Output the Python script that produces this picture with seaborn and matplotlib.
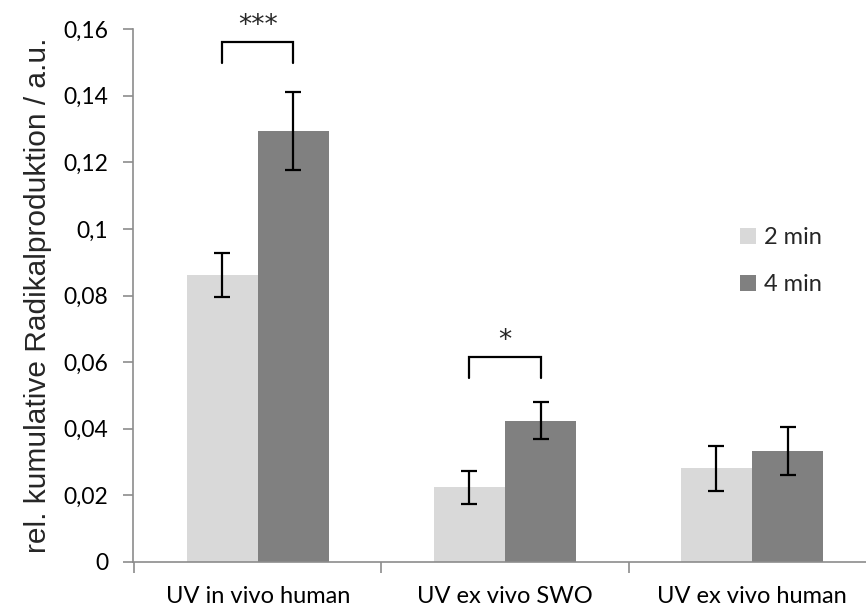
import matplotlib
matplotlib.use("Agg")
import matplotlib.pyplot as plt
import seaborn as sns
import pandas as pd
import numpy as np
from matplotlib.ticker import FuncFormatter, FixedLocator

categories = ["UV in vivo human", "UV ex vivo SWO", "UV ex vivo human"]
series = ["2 min", "4 min"]
values_2min = [0.0862, 0.0224, 0.0281]
values_4min = [0.1294, 0.0424, 0.0333]
err_2min = [0.0066, 0.0050, 0.0067]
err_4min = [0.0116, 0.0055, 0.0072]
sig_labels = ["***", "*", ""]
sig_heights = [0.1561, 0.0615, None]

sns.set_style("white")
plt.rcParams['font.family'] = ['Lato', 'DejaVu Sans']

df = pd.DataFrame({
    "cat": categories * 2,
    "series": [series[0]] * 3 + [series[1]] * 3,
    "value": values_2min + values_4min,
    "err": err_2min + err_4min,
})

fig = plt.figure(figsize=(8.66, 6.07), dpi=100)
ax = fig.add_axes([133 / 866, 1 - 562 / 607, 1 - 133 / 866, (562 - 29) / 607])

sns.barplot(data=df, x="cat", y="value", hue="series", order=categories,
            hue_order=series, palette=["#D9D9D9", "#808080"], width=0.575,
            errorbar=None, ax=ax, saturation=1, linewidth=0)

# error bars from the bar patches
centers = {}
for container, errs, s in zip(ax.containers, [err_2min, err_4min], series):
    xs = [p.get_x() + p.get_width() / 2 for p in container.patches]
    hs = [p.get_height() for p in container.patches]
    centers[s] = xs
    ax.errorbar(xs, hs, yerr=errs, fmt="none", ecolor="black", elinewidth=1.6,
                capsize=6, capthick=1.6, zorder=5)

# significance brackets
for i, (lab, h) in enumerate(zip(sig_labels, sig_heights)):
    if not lab:
        continue
    x1, x2 = centers[series[0]][i], centers[series[1]][i]
    leg = 0.0063
    ax.plot([x1, x1, x2, x2], [h - leg, h, h, h - leg], color="black", lw=1.6,
            clip_on=False, solid_joinstyle="miter")
    ax.text((x1 + x2) / 2, h + 0.0008, lab, ha="center", va="bottom",
            fontsize=19, clip_on=False, family=["DejaVu Sans"])

ax.set_ylim(0, 0.16)
ax.set_xlim(-0.506, 2.4615)
ax.yaxis.set_major_locator(FixedLocator(np.arange(0, 0.1601, 0.02)))
ax.yaxis.set_major_formatter(FuncFormatter(lambda v, p: ("%g" % round(v, 4)).replace(".", ",")))

for side in ["top", "right"]:
    ax.spines[side].set_visible(False)
for side in ["left", "bottom"]:
    ax.spines[side].set_color("#8C8C8C")
    ax.spines[side].set_linewidth(1.2)

ax.tick_params(axis="y", which="major", left=True, length=7, width=1.2,
               color="#8C8C8C", labelsize=16.5, pad=11, labelcolor="black")
ax.set_xticks([0, 1, 2])
ax.set_xticklabels(categories)
ax.xaxis.set_minor_locator(FixedLocator([-0.5, 0.5, 1.5, 2.5]))
ax.tick_params(axis="x", which="major", bottom=False, labelsize=17, pad=14, labelcolor="black")
ax.tick_params(axis="x", which="minor", bottom=True, length=8, width=1.2, color="#8C8C8C")

ax.set_xlabel("")
ax.set_ylabel("rel. kumulative Radikalproduktion / a.u.", fontsize=21.5,
              family=["Liberation Sans", "DejaVu Sans"], labelpad=8)

leg = ax.legend(loc="upper left", bbox_to_anchor=((731 - 133) / (866 - 133), (562 - 218) / 533),
                frameon=False, fontsize=17, handlelength=0.65, handleheight=0.65,
                handletextpad=0.35, labelspacing=1.1, borderaxespad=0)

fig.savefig("out.png", dpi=100)
